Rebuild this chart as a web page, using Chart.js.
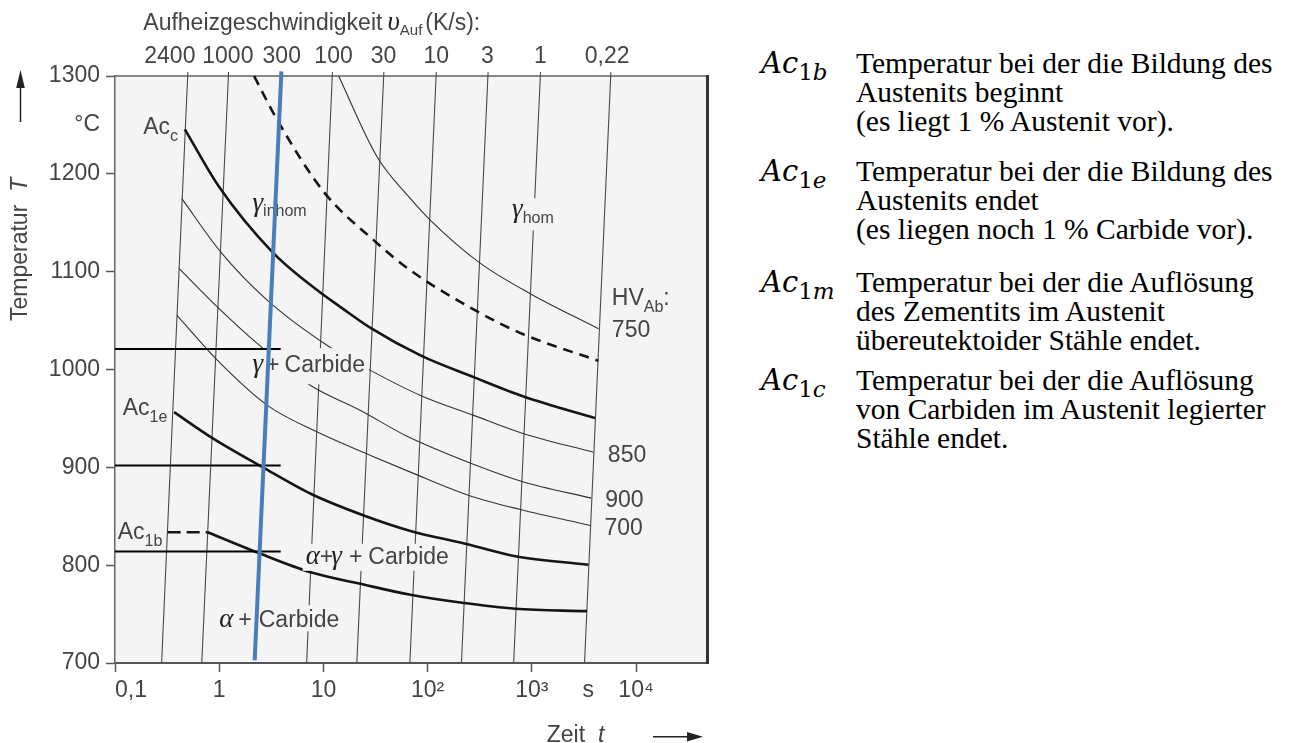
<!DOCTYPE html>
<html lang="de">
<head>
<meta charset="utf-8">
<title>Austenitisierung</title>
<script src="https://cdn.jsdelivr.net/npm/chart.js@4.4.1/dist/chart.umd.min.js"></script>
<style>
  html, body { margin: 0; padding: 0; background: #fff; }
  #page { position: relative; width: 1290px; height: 743px; overflow: hidden; }
  #chart { position: absolute; left: 0; top: 0; }
  .entry { position: absolute; left: 0; font-family: "Liberation Serif", "Times New Roman", serif; font-size: 29.5px; line-height: 29px; color: #000; }
  .entry .sym { position: absolute; left: 761px; top: 0; font-family: "DejaVu Serif", serif; font-size: 29px; font-style: italic; white-space: nowrap; }
  .entry .sym sub { font-size: 23px; vertical-align: -7px; line-height: 0; font-style: normal; }
  .entry .sym sub i { font-style: italic; }
  .entry .txt { position: absolute; left: 856px; top: 0; white-space: nowrap; }
</style>
</head>
<body>
<div id="page">
  <canvas id="chart" width="740" height="743"></canvas>
  <div class="entry" style="top:49px"><div class="sym">Ac<sub>1<i>b</i></sub></div><div class="txt">Temperatur bei der die Bildung des<br>Austenits beginnt<br>(es liegt 1 % Austenit vor).</div></div>
  <div class="entry" style="top:157px"><div class="sym">Ac<sub>1<i>e</i></sub></div><div class="txt">Temperatur bei der die Bildung des<br>Austenits endet<br>(es liegen noch 1 % Carbide vor).</div></div>
  <div class="entry" style="top:268px"><div class="sym">Ac<sub>1<i>m</i></sub></div><div class="txt">Temperatur bei der die Auflösung<br>des Zementits im Austenit<br>übereutektoider Stähle endet.</div></div>
  <div class="entry" style="top:366px"><div class="sym">Ac<sub>1<i>c</i></sub></div><div class="txt">Temperatur bei der die Auflösung<br>von Carbiden im Austenit legierter<br>Stähle endet.</div></div>
</div>
<script>
// heating rates (K/s) written along the top edge
const rateNames = ['2400', '1000', '300', '100', '30', '10', '3', '1', '0,22'];
const rateLabelTime = [0.336, 1.21, 3.98, 12.5, 37.7, 121, 374, 1204, 5276];

// constant-rate lines: time (s) at the bottom (700 °C) and at the top edge
const rateTimeLow = [0.28, 0.68, 6.9, 20.9, 67.5, 211, 668, 3200];
const rateTimeHigh = [0.50, 1.23, 12.2, 38, 121, 380, 1210, 5730];
const rateTempLow = 700;
const rateTempHigh = 1304;

// highlighted 300 K/s heating path
const heatTime = [2.19, 3.95];
const heatTemp = [702.6, 1304.8];

// horizontal reading lines
const readTemps = [1021, 902, 814];
const readTime = [0.1, 3.89];

// Ac_c (thick)
const accTime = [0.468, 1.00, 3.24, 8.74, 14.6, 28.3, 85.3, 276, 845, 4046];
const accTemp = [1245.5, 1186.5, 1120.0, 1080.9, 1063.8, 1042.5, 1014.4, 992.2, 972.2, 950.3];

// boundary inhomogeneous / homogeneous austenite (dashed)
const homTime = [2.16, 3.62, 10.1, 30.5, 68.4, 287, 804, 4355];
const homTemp = [1300, 1254.7, 1181.4, 1132.0, 1101.3, 1060.4, 1036.6, 1008.8];

// thin curves by initial hardness HV
const hv750Time = [13.98, 32.8, 68.4, 106.4, 309, 965, 4355];
const hv750Temp = [1300, 1217.2, 1174.6, 1152.5, 1109.8, 1077.5, 1041.7];
const hv850Time = [0.438, 1.036, 2.90, 10.9, 28.3, 85.3, 276, 833, 3899];
const hv850Temp = [1174.6, 1120.0, 1070.7, 1024.6, 999.1, 973.5, 953.1, 934.4, 915.5];
const hv900Time = [0.413, 0.963, 2.33, 7.54, 22.7, 61.3, 267, 804, 3707];
const hv900Temp = [1103.1, 1063.8, 1026.4, 983.7, 958.2, 932.6, 903.7, 885.6, 868.5];
const hv700Time = [0.393, 0.963, 2.90, 8.74, 28.3, 68.4, 248, 774, 3626];
const hv700Temp = [1055.3, 1009.3, 963.3, 936.0, 912.2, 895.1, 871.3, 856.9, 840.6];

// Ac_1e and Ac_1b (thick)
const ac1eTime = [0.369, 0.831, 2.60, 7.54, 24.4, 68.4, 230, 693, 3492];
const ac1eTemp = [956.4, 930.9, 900.2, 873.0, 850.8, 835.0, 821.9, 809.2, 800.4];
const ac1bTime = [0.773, 2.50, 7.54, 22.7, 68.4, 214, 693, 3378];
const ac1bTemp = [833.7, 811.6, 792.8, 780.9, 769.7, 761.5, 755.4, 753.0];
const ac1bStubTime = [0.320, 0.773];
const ac1bStubTemp = [833.7, 833.7];

// axis ticks
const timeTicks = [0.1, 1, 10, 100, 1000, 3467, 10000];
const timeTickLabels = ['     0,1', '1', '10', '10²', '10³', 's', '10⁴'];
const tempTicks = [700, 800, 900, 1000, 1100, 1200, 1250, 1300];

const SANS = '"Liberation Sans", Arial, Helvetica, sans-serif';
const SERIF = '"Liberation Serif", "Times New Roman", serif';
const F = '23px ' + SANS;
const FS = '16px ' + SANS;
const FI = 'italic 23px ' + SANS;
const FG = 'italic 27px ' + SERIF;
const TXT = '#444';
const GR = '#222';
const PLOT_BG = '#f4f4f4';

function pts(times, temps) {
    return times.map((t, i) => ({ x: t, y: temps[i] }));
}

function curve(data, width, color, dash) {
    return {
        data: data,
        borderColor: color,
        borderWidth: width,
        borderDash: dash || [],
        borderCapStyle: 'butt',
        pointRadius: 0,
        fill: false,
        cubicInterpolationMode: 'monotone',
        clip: false
    };
}

const datasets = [];
datasets.push(curve(pts(heatTime, heatTemp), 4, '#4a7ebb'));
readTemps.forEach(T => datasets.push(curve(pts(readTime, [T, T]), 2, '#000')));
datasets.push(curve(pts(accTime, accTemp), 2.6, '#151515'));
datasets.push(curve(pts(homTime, homTemp), 2.6, '#151515', [10, 7]));
datasets.push(curve(pts(ac1eTime, ac1eTemp), 2.6, '#151515'));
datasets.push(curve(pts(ac1bTime, ac1bTemp), 2.6, '#151515'));
datasets.push(curve(pts(ac1bStubTime, ac1bStubTemp), 2.6, '#151515', [13, 6]));
datasets.push(curve(pts(hv750Time, hv750Temp), 1.1, '#333'));
datasets.push(curve(pts(hv850Time, hv850Temp), 1.1, '#333'));
datasets.push(curve(pts(hv900Time, hv900Temp), 1.1, '#333'));
datasets.push(curve(pts(hv700Time, hv700Temp), 1.1, '#333'));
rateTimeLow.forEach((t, i) => {
    datasets.push(curve([{ x: t, y: rateTempLow }, { x: rateTimeHigh[i], y: rateTempHigh }], 1.1, '#4a4a4a'));
});

// region and curve labels, anchored at (time, temperature) of the left baseline
const regionLabels = [
    { t: 0.1867, T: 1241.1, parts: [{ text: 'Ac', font: F }, { text: 'c', font: FS, dy: 7 }] },
    { t: 2.084, T: 1161.7, pad: [3, 3, 3, 3], parts: [{ text: 'γ', font: FG, color: GR }, { text: 'inhom', font: FS, dy: 5 }] },
    { t: 645, T: 1155.5, pad: [6, 4, 7, 4], parts: [{ text: 'γ', font: FG, color: GR }, { text: 'hom', font: FS, dy: 6 }] },
    { t: 2.084, T: 997.3, pad: [6, 4, 6, 5], parts: [{ text: 'γ', font: FG, color: GR }, { text: '+', font: F, dx: 3 }, { text: 'Carbide', font: F, dx: 5 }] },
    { t: 0.1185, T: 953.1, parts: [{ text: 'Ac', font: F }, { text: '1e', font: FS, dy: 7 }] },
    { t: 0.1061, T: 827.0, parts: [{ text: 'Ac', font: F }, { text: '1b', font: FS, dy: 7 }] },
    { t: 6.753, T: 801.4, pad: [2, 4, 1, 3], parts: [{ text: 'α', font: FG, color: GR }, { text: '+', font: F }, { text: 'γ', font: FG, color: GR, dx: -2 }, { text: '+', font: F, dx: 7 }, { text: 'Carbide', font: F, dx: 6 }] },
    { t: 0.998, T: 736.6, pad: [4, 4, 4, 4], parts: [{ text: 'α', font: FG, color: GR }, { text: '+', font: F, dx: 5 }, { text: 'Carbide', font: F, dx: 7 }] },
    { t: 5853, T: 1065.5, parts: [{ text: 'HV', font: F }, { text: 'Ab', font: FS, dy: 7 }, { text: ':', font: F }] },
    { t: 5853, T: 1033.1, parts: [{ text: '750', font: F }] },
    { t: 5357, T: 905.3, parts: [{ text: '850', font: F }] },
    { t: 5048, T: 859.3, parts: [{ text: '900', font: F }] },
    { t: 4971, T: 831.1, parts: [{ text: '700', font: F }] }
];

function layoutRich(ctx, x, y, parts) {
    let cx = x, top = Infinity, bottom = -Infinity;
    const items = parts.map(p => {
        ctx.font = p.font;
        cx += p.dx || 0;
        const m = ctx.measureText(p.text);
        const by = y + (p.dy || 0);
        top = Math.min(top, by - m.actualBoundingBoxAscent);
        bottom = Math.max(bottom, by + m.actualBoundingBoxDescent);
        const item = { p: p, x: cx, y: by };
        cx += m.width;
        return item;
    });
    return { items: items, right: cx, top: top, bottom: bottom };
}

function drawItems(ctx, items) {
    items.forEach(it => {
        ctx.font = it.p.font;
        ctx.fillStyle = it.p.color || TXT;
        ctx.fillText(it.p.text, it.x, it.y);
    });
}

const backgroundPlugin = {
    id: 'plotBackground',
    beforeDraw(chart) {
        const a = chart.chartArea, ctx = chart.ctx;
        ctx.save();
        ctx.fillStyle = PLOT_BG;
        ctx.fillRect(a.left, a.top, a.right - a.left, a.bottom - a.top);
        ctx.restore();
    }
};

const labelPlugin = {
    id: 'regionLabels',
    beforeDatasetDraw(chart, args) {
        if (args.index !== 3) return;
        const ctx = chart.ctx, x = chart.scales.x, y = chart.scales.y;
        ctx.save();
        ctx.textAlign = 'left';
        ctx.textBaseline = 'alphabetic';
        regionLabels.forEach(lb => {
            const px = x.getPixelForValue(lb.t), py = y.getPixelForValue(lb.T);
            const r = layoutRich(ctx, px, py, lb.parts);
            if (lb.pad) {
                const [pt, pr, pb, pl] = lb.pad;
                ctx.fillStyle = PLOT_BG;
                ctx.fillRect(px - pl, r.top - pt, r.right - px + pl + pr, r.bottom - r.top + pt + pb);
            }
            drawItems(ctx, r.items);
        });
        ctx.restore();
    }
};

const titlePlugin = {
    id: 'axisTitles',
    afterDraw(chart) {
        const ctx = chart.ctx;
        ctx.save();
        ctx.textAlign = 'left';
        ctx.textBaseline = 'alphabetic';

        // heating rate title
        let r = layoutRich(ctx, 143.3, 30, [
            { text: 'Aufheizgeschwindigkeit', font: F },
            { text: 'υ', font: FG, color: GR, dx: 5 },
            { text: 'Auf', font: '15px ' + SANS, dy: 5 },
            { text: '(K/s):', font: F, dx: 3 }
        ]);
        drawItems(ctx, r.items);

        // time title and arrow
        r = layoutRich(ctx, 546.7, 741.5, [
            { text: 'Zeit', font: F },
            { text: 't', font: FI, dx: 13 }
        ]);
        drawItems(ctx, r.items);

        ctx.strokeStyle = '#222';
        ctx.fillStyle = '#222';
        ctx.lineWidth = 1.5;
        ctx.beginPath();
        ctx.moveTo(653, 736.7);
        ctx.lineTo(690, 736.7);
        ctx.stroke();
        ctx.beginPath();
        ctx.moveTo(703, 736.7);
        ctx.lineTo(687, 732);
        ctx.lineTo(687, 741.4);
        ctx.closePath();
        ctx.fill();

        // temperature title and arrow
        ctx.save();
        ctx.translate(27, 321);
        ctx.rotate(-Math.PI / 2);
        r = layoutRich(ctx, 0, 0, [
            { text: 'Temperatur', font: F },
            { text: 'T', font: FI, dx: 13 }
        ]);
        drawItems(ctx, r.items);
        ctx.restore();

        ctx.beginPath();
        ctx.moveTo(20.5, 122);
        ctx.lineTo(20.5, 84);
        ctx.stroke();
        ctx.beginPath();
        ctx.moveTo(20.5, 70);
        ctx.lineTo(16.2, 88);
        ctx.lineTo(24.8, 88);
        ctx.closePath();
        ctx.fill();
        ctx.restore();
    }
};

const tickFont = { family: SANS, size: 23 };

new Chart(document.getElementById('chart').getContext('2d'), {
    type: 'line',
    data: { datasets: datasets },
    options: {
        responsive: false,
        animation: false,
        events: [],
        layout: { padding: { left: 0, top: 0, right: 33, bottom: 0 } },
        plugins: { legend: { display: false }, tooltip: { enabled: false } },
        scales: {
            x: {
                type: 'logarithmic',
                position: 'bottom',
                min: 0.1,
                max: 47900,
                afterBuildTicks: s => { s.ticks = timeTicks.map(v => ({ value: v })); },
                afterFit: s => { s.height = 80; },
                grid: {
                    drawOnChartArea: false,
                    tickLength: 9,
                    tickWidth: 1.5,
                    tickColor: c => (c.tick && c.tick.value === 3467 ? 'rgba(0,0,0,0)' : '#555')
                },
                border: { color: '#555', width: 2 },
                ticks: {
                    autoSkip: false, maxRotation: 0, minRotation: 0,
                    font: tickFont, color: TXT, padding: 5,
                    callback: (v, i) => timeTickLabels[i]
                }
            },
            x2: {
                type: 'logarithmic',
                position: 'top',
                min: 0.1,
                max: 47900,
                afterBuildTicks: s => { s.ticks = rateLabelTime.map(v => ({ value: v })); },
                afterFit: s => { s.height = 76; },
                grid: { drawOnChartArea: false, drawTicks: false },
                border: { color: '#888', width: 2 },
                ticks: {
                    autoSkip: false, maxRotation: 0, minRotation: 0,
                    font: tickFont, color: TXT, padding: 6,
                    callback: (v, i) => rateNames[i]
                }
            },
            y: {
                type: 'linear',
                position: 'left',
                min: 700,
                max: 1300,
                afterBuildTicks: s => { s.ticks = tempTicks.map(v => ({ value: v })); },
                afterFit: s => { s.width = 115; },
                grid: {
                    drawOnChartArea: false,
                    tickLength: 9,
                    tickWidth: 1.5,
                    tickColor: c => (c.tick && c.tick.value === 1250 ? 'rgba(0,0,0,0)' : '#555')
                },
                border: { color: '#666', width: 1.5 },
                ticks: {
                    font: tickFont, color: TXT, padding: 6,
                    callback: v => (v === 1250 ? '°C' : String(v))
                }
            },
            y2: {
                type: 'linear',
                position: 'right',
                min: 700,
                max: 1300,
                afterFit: s => { s.width = 0; },
                grid: { drawOnChartArea: false, drawTicks: false },
                border: { color: '#333', width: 3 },
                ticks: { display: false }
            }
        }
    },
    plugins: [backgroundPlugin, labelPlugin, titlePlugin]
});
</script>
</body>
</html>
